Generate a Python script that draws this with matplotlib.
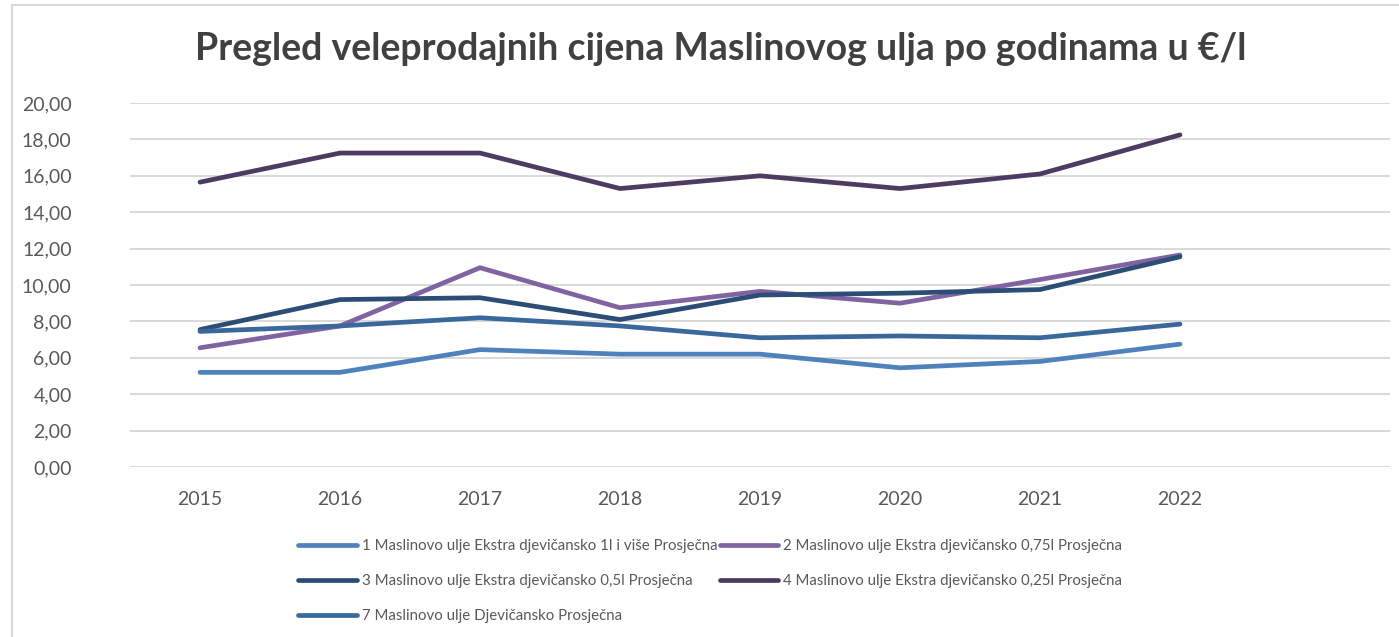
import numpy as np
import matplotlib
matplotlib.use('Agg')
import matplotlib.pyplot as plt
from matplotlib.patches import Rectangle

# podaci - prosjecne veleprodajne cijene (EUR/l)
godine = ['2015', '2016', '2017', '2018', '2019', '2020', '2021', '2022']

ekstra_1l = [5.2, 5.2, 6.45, 6.2, 6.2, 5.45, 5.8, 6.75]
ekstra_075 = [6.55, 7.75, 10.95, 8.75, 9.65, 9.0, 10.3, 11.65]
ekstra_05 = [7.55, 9.2, 9.3, 8.1, 9.45, 9.55, 9.75, 11.55]
ekstra_025 = [15.65, 17.25, 17.25, 15.3, 16.0, 15.3, 16.1, 18.25]
djevicansko = [7.45, 7.75, 8.2, 7.75, 7.1, 7.2, 7.1, 7.85]

nazivi = ['1 Maslinovo ulje Ekstra djevičansko 1l i više Prosječna',
          '2 Maslinovo ulje Ekstra djevičansko 0,75l Prosječna',
          '3 Maslinovo ulje Ekstra djevičansko 0,5l Prosječna',
          '4 Maslinovo ulje Ekstra djevičansko 0,25l Prosječna',
          '7 Maslinovo ulje Djevičansko Prosječna']

plt.rcParams['font.family'] = ['Lato', 'DejaVu Sans']

fig = plt.figure(figsize=(13.99, 6.37), dpi=100)
ax = fig.add_axes([130/1399, 1-467/637, 1260/1399, 364/637])

x = np.arange(len(godine))
serije = [ekstra_1l, ekstra_075, ekstra_05, ekstra_025, djevicansko]
boje = ['#4F81BD', '#8064A2', '#2C4D75', '#4D3B62', '#3A689D']
linije = []
for s, b, n in zip(serije, boje, nazivi):
    l, = ax.plot(x, s, color=b, lw=3.4, solid_capstyle='round',
                 solid_joinstyle='round', label=n, zorder=3)
    linije.append(l)

ax.set_xlim(-0.5, 8.5)
ax.set_ylim(0, 20)
ax.set_yticks(np.arange(0, 21, 2))
ax.set_yticklabels([('%.2f' % v).replace('.', ',') for v in np.arange(0, 21, 2)])
ax.set_xticks(x)
ax.set_xticklabels(godine)
ax.tick_params(length=0, labelsize=14, labelcolor='#595959')
ax.tick_params(axis='y', pad=42)
ax.tick_params(axis='x', pad=17)
ax.grid(axis='y', color='#D9D9D9', lw=1.4, zorder=0)
for sp in ax.spines.values():
    sp.set_visible(False)

fig.text(0.5154, 1-49/637, 'Pregled veleprodajnih cijena Maslinovog ulja po godinama u €/l',
         ha='center', va='center', fontsize=27, fontweight='bold', color='#404040')

# redoslijed legende kao u Excelu (2 stupca)
leg = fig.legend([linije[0], linije[2], linije[4], linije[1], linije[3]],
                 [nazivi[0], nazivi[2], nazivi[4], nazivi[1], nazivi[3]],
                 ncol=2, loc='upper left', bbox_to_anchor=(298/1399, 1-539/637),
                 frameon=False, fontsize=10.8, handlelength=3.9, handletextpad=0.35,
                 columnspacing=0.15, labelspacing=1.4, borderpad=0, borderaxespad=0)
for t in leg.get_texts():
    t.set_color('#595959')

fig.patches.append(Rectangle((12/1399, -0.1), 1.2, 1-5/637+0.1, transform=fig.transFigure,
                             fill=False, edgecolor='#D9D9D9', lw=1.5))

plt.savefig('out.png', dpi=100)
